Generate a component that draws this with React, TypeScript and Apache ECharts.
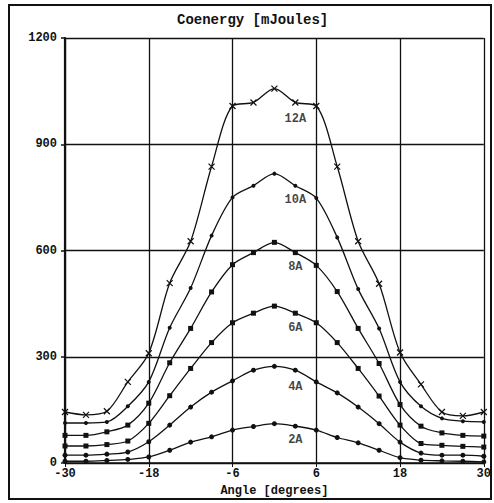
import React, { useEffect, useRef } from "react";
import * as echarts from "echarts";

const angles = [-30, -27, -24, -21, -18, -15, -12, -9, -6, -3, 0, 3, 6, 9, 12, 15, 18, 21, 24, 27, 30];

const s12A = [144, 136, 146, 229, 310, 508, 626, 837, 1008, 1018, 1057, 1018, 1008, 837, 626, 506, 312, 222, 144, 133, 144];
const s10A = [113, 113, 116, 160, 229, 382, 494, 642, 750, 783, 817, 783, 748, 637, 491, 380, 229, 160, 126, 118, 116];
const s8A = [78, 78, 88, 107, 169, 283, 380, 483, 560, 594, 623, 594, 558, 484, 380, 281, 165, 104, 85, 78, 76];
const s6A = [48, 48, 52, 62, 112, 190, 267, 340, 396, 423, 443, 423, 396, 340, 267, 189, 107, 55, 50, 47, 45];
const s4A = [22, 22, 25, 31, 60, 107, 158, 200, 232, 262, 273, 262, 229, 198, 158, 111, 59, 28, 22, 22, 19];
const s2A = [5, 5, 7, 10, 17, 36, 59, 74, 93, 103, 111, 104, 93, 72, 57, 36, 15, 8, 6, 5, 3];

const seriesNames = ["12A", "10A", "8A", "6A", "4A", "2A"];
const seriesValues = [s12A, s10A, s8A, s6A, s4A, s2A];
const seriesSymbols = ["path://M0,0L10,10M10,0L0,10", "circle", "rect", "rect", "circle", "circle"];
const symbolSizes = [6, 4, 5, 5, 5, 5];

const labelX = [3, 3, 3, 3, 3, 3];
const labelY = [970, 743, 554, 381, 214, 64];

const xTicks = { min: -30, max: 30, interval: 12 };
const yTicks = { min: 0, max: 1200, interval: 300 };

const MONO = "'Liberation Mono', 'DejaVu Sans Mono', monospace";

export default function App() {
  const ref = useRef<HTMLDivElement>(null);
  useEffect(() => {
    if (!ref.current) return;
    const chart = echarts.init(ref.current, undefined, { renderer: "svg" });
    const lineSeries = seriesNames.map((name, i) => ({
      name,
      type: "line",
      smooth: 0.3,
      data: angles.map((a, j) => [a, seriesValues[i][j]]),
      symbol: seriesSymbols[i],
      symbolSize: symbolSizes[i],
      showSymbol: true,
      lineStyle: { color: "#111", width: 1.3 },
      itemStyle:
        i === 0
          ? { color: "rgba(0,0,0,0)", borderColor: "#111", borderWidth: 1.2 }
          : { color: "#111", borderColor: "#111", borderWidth: 0 },
      z: 3,
    }));
    const labelSeries = {
      type: "scatter",
      data: seriesNames.map((n, i) => [labelX[i], labelY[i], n]),
      symbolSize: 1,
      itemStyle: { color: "rgba(0,0,0,0)" },
      label: {
        show: true,
        position: "inside",
        formatter: (p: any) => p.data[2],
        fontFamily: MONO,
        fontWeight: "bold",
        fontSize: 12,
        color: "#111",
      },
      z: 4,
    };
    chart.setOption({
      animation: false,
      backgroundColor: "#fff",
      title: {
        text: "Coenergy [mJoules]",
        left: 172,
        top: 8,
        textStyle: { fontFamily: MONO, fontWeight: "bold", fontSize: 14, color: "#111" },
      },
      grid: { left: 65, top: 38, width: 420, height: 425, containLabel: false },
      xAxis: {
        type: "value",
        min: xTicks.min,
        max: xTicks.max,
        interval: xTicks.interval,
        name: "Angle [degrees]",
        nameLocation: "middle",
        nameGap: 22,
        nameTextStyle: { fontFamily: MONO, fontWeight: "bold", fontSize: 12, color: "#111" },
        axisLine: { onZero: false, lineStyle: { color: "#111", width: 1.5 } },
        axisTick: { show: true, length: 4, lineStyle: { color: "#111" } },
        axisLabel: {
          fontFamily: MONO,
          fontWeight: "bold",
          fontSize: 12,
          color: "#111",
          margin: 5,
          formatter: (v: number) => String(v),
        },
        splitLine: { show: true, lineStyle: { color: "#111", width: 1.3 } },
      },
      yAxis: {
        type: "value",
        min: yTicks.min,
        max: yTicks.max,
        interval: yTicks.interval,
        axisLine: { show: true, onZero: false, lineStyle: { color: "#111", width: 2.2 } },
        axisTick: { show: true, length: 4, lineStyle: { color: "#111", width: 1.5 } },
        axisLabel: {
          fontFamily: MONO,
          fontWeight: "bold",
          fontSize: 12,
          color: "#111",
          margin: 8,
          formatter: (v: number) => String(v),
        },
        splitLine: { show: true, lineStyle: { color: "#111", width: 1.3 } },
      },
      graphic: [
        {
          type: "rect",
          shape: { x: 9, y: 5, width: 482, height: 494 },
          style: { fill: "none", stroke: "#111", lineWidth: 2 },
          silent: true,
        },
      ],
      series: [...lineSeries, labelSeries],
    });
    return () => chart.dispose();
  }, []);
  return (
    <div
      ref={ref}
      style={{ position: "absolute", left: 0, top: 0, width: 494, height: 503, background: "#fff" }}
    />
  );
}
